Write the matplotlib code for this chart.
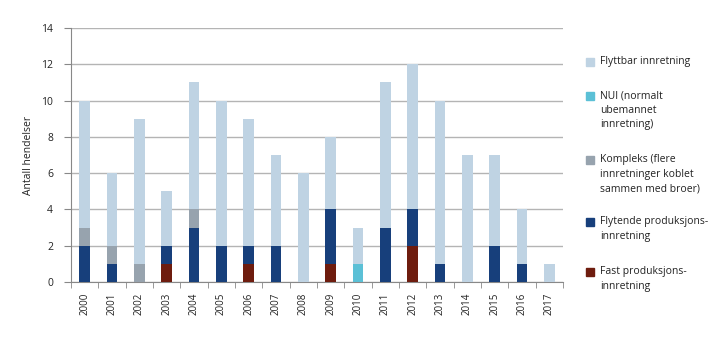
import numpy as np
import matplotlib.pyplot as plt
from matplotlib.patches import Rectangle

plt.rcParams['font.family'] = ['Open Sans', 'DejaVu Sans']

years = [str(y) for y in range(2000, 2018)]
fast = [0, 0, 0, 1, 0, 0, 1, 0, 0, 1, 0, 0, 2, 0, 0, 0, 0, 0]
flytende = [2, 1, 0, 1, 3, 2, 1, 2, 0, 3, 0, 3, 2, 1, 0, 2, 1, 0]
kompleks = [1, 1, 1, 0, 1, 0, 0, 0, 0, 0, 0, 0, 0, 0, 0, 0, 0, 0]
nui = [0, 0, 0, 0, 0, 0, 0, 0, 0, 0, 1, 0, 0, 0, 0, 0, 0, 0]
flyttbar = [7, 4, 8, 3, 7, 8, 7, 5, 6, 4, 2, 8, 8, 9, 7, 5, 3, 1]

series = [
    ('Fast produksjons-\ninnretning', fast, '#6e1c0e'),
    ('Flytende produksjons-\ninnretning', flytende, '#173f7b'),
    ('Kompleks (flere\ninnretninger koblet\nsammen med broer)', kompleks, '#97a3ae'),
    ('NUI (normalt\nubemannet\ninnretning)', nui, '#5bc0d6'),
    ('Flyttbar innretning', flyttbar, '#bfd3e3'),
]

fig = plt.figure(figsize=(7.19, 3.41), dpi=100)
ax = fig.add_axes([71 / 719, 1 - 282 / 341, (563 - 71) / 719, (282 - 28) / 341])

x = np.arange(len(years))
bottom = np.zeros(len(years))
for label, vals, color in series:
    ax.bar(x, vals, width=0.4, bottom=bottom, color=color, zorder=3)
    bottom += np.array(vals)

ax.set_xlim(-0.5, len(years) - 0.5)
ax.set_ylim(0, 14)
ax.set_yticks(range(0, 15, 2))
ax.yaxis.grid(True, color='#b4b4b4', linewidth=1, zorder=0)
ax.set_xticks(x)
ax.set_xticklabels(years, rotation=90, fontsize=7, color='#222222')
ax.set_xticks(np.arange(-0.5, len(years), 1), minor=True)
ax.tick_params(axis='x', which='major', length=0, pad=8)
ax.tick_params(axis='x', which='minor', length=4, color='#888888', direction='out')
ax.tick_params(axis='y', length=5, color='#888888', labelsize=7.5, labelcolor='#222222', pad=8)
for s in ['top', 'right']:
    ax.spines[s].set_visible(False)
ax.spines['left'].set_color('#888888')
ax.spines['bottom'].set_color('#888888')
ax.set_ylabel('Antall hendelser', fontsize=7.5, color='#222222', labelpad=5)

# legend, drawn by hand so the square sits at the first text line
leg_y = [62, 96, 160, 222, 272]
for (label, vals, color), yy in zip(reversed(series), leg_y):
    fig.patches.append(Rectangle((586 / 719, 1 - (yy + 4) / 341), 8 / 719, 8 / 341,
                                 transform=fig.transFigure, color=color))
    fig.text(600 / 719, 1 - (yy - 6) / 341, label, fontsize=7.5, color='#222222',
             va='top', ha='left', linespacing=1.45)

fig.savefig('out.png', dpi=100)
